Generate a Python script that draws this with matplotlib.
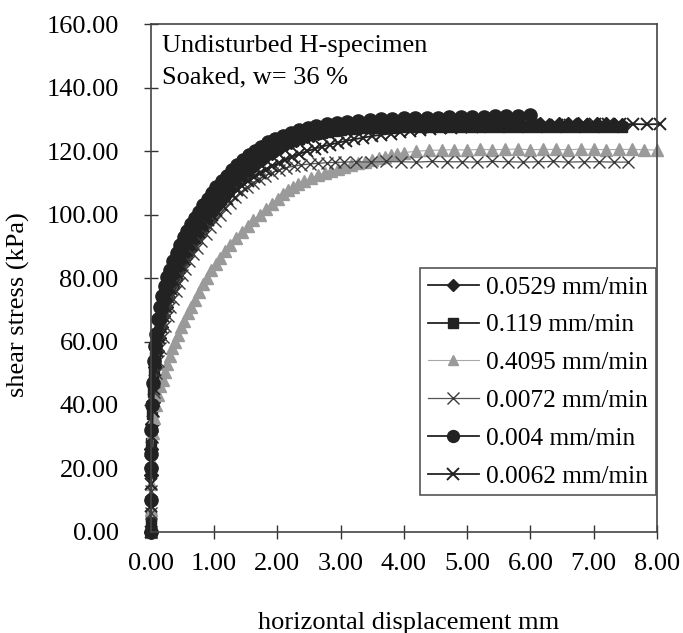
import matplotlib
matplotlib.use("Agg")
import matplotlib.pyplot as plt

plt.rcParams['font.family'] = 'serif'
plt.rcParams['font.serif'] = ['Liberation Serif', 'DejaVu Serif']

# displacement (mm) / shear stress (kPa)
x_0529 = [0.00, 0.00, 0.01, 0.02, 0.03, 0.05, 0.07, 0.10, 0.13, 0.16,
          0.20, 0.24, 0.28, 0.33, 0.38, 0.43, 0.48, 0.54, 0.60, 0.66,
          0.72, 0.78, 0.84, 0.90, 0.96, 1.02, 1.08, 1.14, 1.21, 1.27,
          1.34, 1.40, 1.47, 1.54, 1.61, 1.68, 1.76, 1.83, 1.91, 1.98,
          2.06, 2.14, 2.22, 2.30, 2.39, 2.47, 2.56, 2.64, 2.73, 2.82,
          2.91, 3.00, 3.15, 3.30, 3.45, 3.60, 3.75, 3.90, 4.05, 4.20,
          4.35, 4.50, 4.65, 4.80, 4.95, 5.10, 5.25, 5.40, 5.55, 5.70,
          5.85, 6.00, 6.15, 6.30, 6.45, 6.60, 6.75, 6.90, 7.05, 7.20,
          7.32, 7.44]
y_0529 = [0.0, 18.0, 26.0, 34.0, 41.0, 47.0, 52.0, 57.0, 61.0, 64.5,
          68.0, 71.0, 74.0, 77.0, 79.5, 82.0, 84.5, 86.5, 89.0, 91.0,
          93.0, 95.0, 96.8, 98.5, 100.3, 102.0, 103.5, 105.0, 106.5, 108.0,
          109.5, 111.0, 112.4, 113.8, 115.0, 116.3, 117.4, 118.5, 119.5, 120.5,
          121.4, 122.2, 122.9, 123.6, 124.2, 124.8, 125.3, 125.8, 126.2, 126.6,
          126.9, 127.2, 127.5, 127.8, 128.0, 128.1, 128.2, 128.3, 128.4, 128.4,
          128.5, 128.5, 128.4, 128.6, 128.5, 128.5, 128.6, 128.5, 128.4, 128.5,
          128.6, 128.5, 128.5, 128.4, 128.5, 128.6, 128.5, 128.4, 128.5, 128.5,
          128.4, 128.4]

x_0119 = [0.00, 0.00, 0.00, 0.01, 0.02, 0.03, 0.05, 0.07, 0.09, 0.12,
          0.15, 0.19, 0.23, 0.27, 0.31, 0.36, 0.41, 0.46, 0.52, 0.57,
          0.63, 0.69, 0.75, 0.81, 0.87, 0.94, 1.00, 1.07, 1.14, 1.21,
          1.28, 1.35, 1.43, 1.50, 1.58, 1.66, 1.74, 1.82, 1.90, 1.99,
          2.07, 2.16, 2.25, 2.34, 2.43, 2.52, 2.61, 2.71, 2.80, 2.90,
          3.00, 3.10, 3.25, 3.40, 3.55, 3.70, 3.85, 4.00, 4.15, 4.30,
          4.45, 4.60, 4.75, 4.90, 5.05, 5.20, 5.35, 5.50, 5.65, 5.80,
          5.95, 6.10, 6.25, 6.40, 6.55, 6.70, 6.85, 7.00, 7.15, 7.30,
          7.44]
y_0119 = [0.0, 2.5, 5.0, 28.0, 37.0, 44.0, 50.0, 55.0, 59.0, 62.5,
          66.0, 69.5, 72.5, 75.5, 78.0, 80.5, 83.0, 85.0, 87.3, 89.5,
          91.5, 93.5, 95.5, 97.5, 99.3, 101.0, 102.8, 104.5, 106.3, 108.0,
          109.5, 111.0, 112.5, 114.0, 115.5, 116.8, 118.0, 119.2, 120.2, 121.2,
          122.0, 122.8, 123.4, 124.0, 124.5, 125.0, 125.4, 125.8, 126.1, 126.4,
          126.7, 126.9, 127.1, 127.2, 127.3, 127.4, 127.5, 127.6, 127.6, 127.7,
          127.6, 127.7, 127.8, 127.7, 127.7, 127.8, 127.7, 127.6, 127.7, 127.8,
          127.7, 127.7, 127.6, 127.7, 127.7, 127.6, 127.7, 127.8, 127.7, 127.6,
          127.6]

x_4095 = [0.00, 0.00, 0.01, 0.02, 0.04, 0.06, 0.09, 0.12, 0.15, 0.19,
          0.22, 0.26, 0.30, 0.34, 0.38, 0.43, 0.48, 0.53, 0.59, 0.64,
          0.70, 0.76, 0.82, 0.89, 0.96, 1.03, 1.10, 1.18, 1.26, 1.35,
          1.44, 1.53, 1.62, 1.72, 1.82, 1.91, 2.01, 2.09, 2.17, 2.25,
          2.33, 2.43, 2.54, 2.64, 2.75, 2.85, 2.96, 3.06, 3.17, 3.28,
          3.39, 3.50, 3.60, 3.70, 3.80, 3.90, 4.00, 4.20, 4.40, 4.60,
          4.80, 5.00, 5.20, 5.40, 5.60, 5.80, 6.00, 6.20, 6.40, 6.60,
          6.80, 7.00, 7.20, 7.40, 7.60, 7.80, 8.00]
y_4095 = [0.0, 7.0, 15.0, 22.0, 31.0, 36.0, 40.0, 43.0, 46.0, 48.0,
          50.5, 53.0, 55.5, 58.0, 60.0, 62.0, 64.5, 66.5, 69.0, 71.0,
          73.0, 75.5, 78.0, 80.0, 82.5, 84.5, 86.5, 88.5, 90.5, 92.5,
          94.5, 96.5, 98.3, 100.0, 101.8, 103.5, 105.0, 106.5, 107.7, 108.8,
          109.8, 110.6, 111.5, 112.4, 113.2, 113.9, 114.5, 115.1, 115.7, 116.2,
          116.7, 117.3, 117.8, 118.3, 118.8, 119.2, 119.6, 120.0, 120.3, 120.4,
          120.5, 120.4, 120.6, 120.5, 120.6, 120.7, 120.5, 120.6, 120.6, 120.5,
          120.7, 120.6, 120.5, 120.6, 120.6, 120.5, 120.4]

x_0072 = [0.00, 0.00, 0.00, 0.01, 0.02, 0.04, 0.06, 0.09, 0.12, 0.15,
          0.19, 0.23, 0.27, 0.31, 0.35, 0.40, 0.45, 0.50, 0.55, 0.61,
          0.67, 0.73, 0.80, 0.87, 0.94, 1.01, 1.09, 1.17, 1.25, 1.34,
          1.43, 1.52, 1.61, 1.71, 1.81, 1.92, 2.03, 2.14, 2.26, 2.38,
          2.51, 2.64, 2.78, 2.92, 3.06, 3.24, 3.48, 3.72, 3.96, 4.20,
          4.44, 4.68, 4.92, 5.16, 5.40, 5.64, 5.88, 6.12, 6.36, 6.60,
          6.84, 7.08, 7.32, 7.54]
y_0072 = [0.0, 6.0, 13.0, 22.0, 30.0, 38.0, 44.0, 50.0, 54.0, 58.0,
          61.5, 65.0, 68.0, 71.0, 73.5, 76.0, 78.5, 81.0, 83.0, 85.5,
          87.5, 89.5, 91.8, 94.0, 96.0, 98.0, 100.0, 102.0, 103.8, 105.6,
          107.2, 108.7, 110.0, 111.2, 112.3, 113.3, 114.1, 114.8, 115.3, 115.7,
          116.0, 116.2, 116.4, 116.5, 116.6, 116.7, 116.6, 116.8, 116.7, 116.6,
          116.8, 116.7, 116.7, 116.6, 116.8, 116.7, 116.6, 116.7, 116.8, 116.6,
          116.7, 116.7, 116.6, 116.6]

x_004 = [0.00, 0.00, 0.00, 0.00, 0.01, 0.02, 0.03, 0.05, 0.07, 0.09,
         0.12, 0.15, 0.18, 0.22, 0.26, 0.30, 0.35, 0.41, 0.46, 0.52,
         0.58, 0.64, 0.70, 0.76, 0.83, 0.90, 0.97, 1.04, 1.12, 1.20,
         1.28, 1.37, 1.46, 1.55, 1.65, 1.75, 1.86, 1.97, 2.09, 2.21,
         2.34, 2.48, 2.62, 2.78, 2.94, 3.10, 3.28, 3.46, 3.64, 3.82,
         4.00, 4.18, 4.36, 4.54, 4.72, 4.90, 5.08, 5.26, 5.44, 5.62,
         5.80, 6.00]
y_004 = [0.0, 10.0, 20.0, 24.5, 32.0, 40.0, 47.0, 54.0, 58.5, 62.5,
         67.0, 71.0, 74.5, 77.5, 80.5, 82.5, 85.5, 88.0, 90.5, 93.0,
         95.0, 97.0, 99.0, 101.0, 103.0, 105.0, 107.0, 108.6, 110.5, 112.3,
         114.0, 115.8, 117.3, 118.8, 120.2, 121.5, 122.8, 123.9, 124.9, 125.8,
         126.6, 127.3, 127.9, 128.5, 129.0, 129.4, 129.7, 130.0, 130.2, 130.3,
         130.4, 130.5, 130.6, 130.5, 130.7, 130.8, 130.7, 130.9, 131.0, 131.1,
         131.2, 131.4]

x_0062 = [0.00, 0.00, 0.00, 0.01, 0.02, 0.03, 0.05, 0.07, 0.10, 0.13,
          0.16, 0.20, 0.24, 0.28, 0.32, 0.37, 0.42, 0.47, 0.52, 0.58,
          0.64, 0.70, 0.76, 0.83, 0.90, 0.97, 1.04, 1.12, 1.20, 1.28,
          1.36, 1.45, 1.54, 1.63, 1.72, 1.82, 1.92, 2.02, 2.13, 2.24,
          2.35, 2.47, 2.59, 2.71, 2.83, 2.96, 3.09, 3.22, 3.36, 3.50,
          3.64, 3.79, 3.94, 4.09, 4.25, 4.41, 4.57, 4.74, 4.91, 5.08,
          5.26, 5.44, 5.62, 5.82, 6.02, 6.22, 6.42, 6.62, 6.82, 7.02,
          7.22, 7.42, 7.62, 7.84, 8.05]
y_0062 = [0.0, 8.0, 15.0, 22.0, 30.0, 38.0, 45.0, 51.0, 57.0, 61.0,
          64.5, 68.0, 71.0, 74.0, 76.5, 79.0, 81.5, 84.0, 86.0, 88.5,
          90.5, 92.5, 94.5, 96.5, 98.2, 100.0, 101.6, 103.2, 104.8, 106.3,
          107.8, 109.2, 110.5, 111.8, 113.0, 114.2, 115.3, 116.3, 117.3, 118.3,
          119.2, 120.0, 120.8, 121.5, 122.1, 122.7, 123.3, 123.8, 124.3, 124.8,
          125.2, 125.6, 126.0, 126.3, 126.6, 126.9, 127.2, 127.4, 127.6, 127.8,
          127.9, 128.0, 128.1, 128.2, 128.3, 128.3, 128.4, 128.4, 128.5, 128.5,
          128.6, 128.5, 128.6, 128.5, 128.6]

x_ticks = [0, 1, 2, 3, 4, 5, 6, 7, 8]
y_ticks = [0, 20, 40, 60, 80, 100, 120, 140, 160]

dark = '#222222'
fs = 19

fig = plt.figure(figsize=(6.83, 6.33), dpi=100)
ax = fig.add_axes([0.2206, 0.160, 0.7413, 0.8013])

ax.plot(x_0529, y_0529, color=dark, lw=1.3, marker='D', ms=7, mfc=dark, mec=dark,
        label='0.0529 mm/min', clip_on=False)
ax.plot(x_0119, y_0119, color=dark, lw=1.3, marker='s', ms=7.5, mfc=dark, mec=dark,
        label='0.119 mm/min', clip_on=False)
ax.plot(x_4095, y_4095, color='#a8a8a8', lw=0.8, marker='^', ms=8, mfc='#9a9a9a',
        mec='#9a9a9a', label='0.4095 mm/min', clip_on=False)
ax.plot(x_0072, y_0072, color='#555555', lw=0.9, marker='x', ms=9, mew=1.0, mec='#3a3a3a',
        label='0.0072 mm/min', clip_on=False)
ax.plot(x_004, y_004, color=dark, lw=1.3, marker='o', ms=9.5, mfc=dark, mec=dark,
        label='0.004 mm/min', clip_on=False)
ax.plot(x_0062, y_0062, color=dark, lw=1.3, marker='x', ms=9, mew=1.4, mec=dark,
        label='0.0062 mm/min', clip_on=False)

ax.set_xlim(0, 8)
ax.set_ylim(0, 160)
ax.set_xticks(x_ticks)
ax.set_xticklabels(['%.2f' % v for v in x_ticks])
ax.set_yticks(y_ticks)
ax.set_yticklabels(['%.2f' % v for v in y_ticks])
ax.tick_params(axis='both', direction='inout', length=10, width=1, colors='#333333',
               labelsize=fs, labelcolor='black')
ax.tick_params(axis='y', pad=18)
ax.tick_params(axis='x', pad=10)
for s in ax.spines.values():
    s.set_color('#444444')
    s.set_linewidth(1.2)

ax.set_xlabel('horizontal displacement mm', fontsize=fs)
ax.xaxis.set_label_coords(0.51, -0.158)
ax.set_ylabel('shear stress (kPa)', fontsize=fs)
ax.yaxis.set_label_coords(-0.238, 0.447)

ax.text(0.022, 0.946, 'Undisturbed H-specimen', transform=ax.transAxes,
        fontsize=fs, va='baseline')
ax.text(0.022, 0.884, 'Soaked, w= 36 %', transform=ax.transAxes,
        fontsize=fs, va='baseline')

leg = ax.legend(loc='lower right', bbox_to_anchor=(0.998, 0.072), borderaxespad=0,
                fontsize=18.3, numpoints=1, handlelength=2.0, handletextpad=0.3,
                labelspacing=0.59, borderpad=0.3, fancybox=False, framealpha=1,
                markerscale=0.9)
leg.get_frame().set_edgecolor('#555555')
leg.get_frame().set_linewidth(1.2)

fig.savefig('out.png', dpi=100)
